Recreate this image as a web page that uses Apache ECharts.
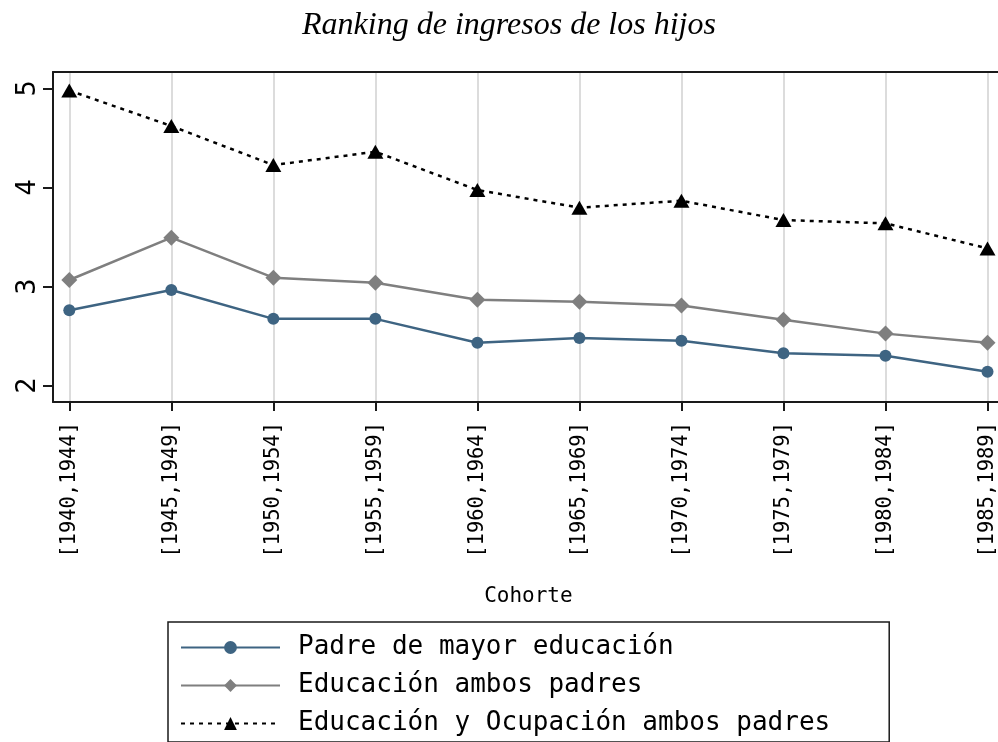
<!DOCTYPE html>
<html>
<head>
<meta charset="utf-8">
<title>Ranking de ingresos de los hijos</title>
<script src="https://cdn.jsdelivr.net/npm/echarts@6/dist/echarts.min.js"></script>
<style>
	html,body{margin:0;padding:0;background:#fff;}
	#chart{width:998px;height:742px;}
</style>
</head>
<body>
<div id="chart"></div>
<script>
//数据
var cohortes = ['[1940,1944]','[1945,1949]','[1950,1954]','[1955,1959]','[1960,1964]','[1965,1969]','[1970,1974]','[1975,1979]','[1980,1984]','[1985,1989]'];
var padreEducacion = [2.76, 2.965, 2.674, 2.674, 2.433, 2.48, 2.453, 2.326, 2.302, 2.14];
var educacionAmbos = [3.066, 3.493, 3.09, 3.039, 2.866, 2.846, 2.808, 2.666, 2.525, 2.433];
var educacionOcupacion = [4.978, 4.62, 4.226, 4.36, 3.974, 3.796, 3.866, 3.671, 3.638, 3.385];
var yTicks = [2, 3, 4, 5];
var nombres = ['Padre de mayor educación','Educación ambos padres','Educación y Ocupación ambos padres'];

;(function(){
	var mono = 'DejaVu Sans Mono';
	var yMin = 1.835, yMax = 5.165;

	var myEchart = echarts.init(document.getElementById('chart'));

	var option = {
		animation : false,
		backgroundColor : '#fff',
		title : {
			text : 'Ranking de ingresos de los hijos',
			left : 504,
			textAlign : 'center',
			top : 5,
			textStyle : {
				fontFamily : 'Liberation Serif',
				fontStyle : 'italic',
				fontWeight : 'normal',
				fontSize : 32,
				color : '#000'
			}
		},
		//0: marco, 1: datos
		grid : [
			{left : 53, top : 72, width : 1000, height : 330},
			{left : 69.3, top : 72, width : 919.7, height : 330}
		],
		xAxis : [
			{
				gridIndex : 0, type : 'value', min : 0, max : 1, position : 'bottom',
				axisLine : {lineStyle : {color : '#1a1a1a', width : 2}},
				axisTick : {show : false}, axisLabel : {show : false}, splitLine : {show : false}
			},
			{
				gridIndex : 0, type : 'value', min : 0, max : 1, position : 'top',
				axisLine : {lineStyle : {color : '#1a1a1a', width : 2}},
				axisTick : {show : false}, axisLabel : {show : false}, splitLine : {show : false}
			},
			{
				gridIndex : 1, type : 'category', boundaryGap : false, data : cohortes,
				axisLine : {show : false},
				axisTick : {show : true, length : 9, lineStyle : {color : '#1a1a1a', width : 2}},
				axisLabel : {rotate : 90, margin : 20, fontFamily : mono, fontSize : 20.5, color : '#000'},
				splitLine : {show : true, lineStyle : {color : '#dcdcdc', width : 2}},
				name : 'Cohorte',
				nameLocation : 'middle',
				nameGap : 184,
				nameTextStyle : {fontFamily : mono, fontSize : 21, color : '#000'}
			}
		],
		yAxis : [
			{
				gridIndex : 0, type : 'value', min : yMin, max : yMax,
				axisLine : {show : true, lineStyle : {color : '#1a1a1a', width : 2}},
				axisTick : {show : true, length : 10, customValues : yTicks, lineStyle : {color : '#1a1a1a', width : 2}},
				axisLabel : {customValues : yTicks, rotate : 90, margin : 12, fontFamily : mono, fontSize : 27, color : '#000'},
				splitLine : {show : false}
			},
			{
				gridIndex : 1, type : 'value', min : yMin, max : yMax, show : false,
				splitLine : {show : false}
			}
		],
		legend : {
			orient : 'vertical',
			left : 168,
			top : 622,
			data : nombres,
			backgroundColor : '#fff',
			borderColor : '#1a1a1a',
			borderWidth : 1.5,
			borderRadius : 0,
			padding : [10, 59, 3, 12],
			itemWidth : 99,
			itemHeight : 16,
			itemGap : 7,
			textStyle : {
				fontFamily : mono,
				fontSize : 26,
				lineHeight : 31,
				color : '#000',
				padding : [0, 0, 0, 13]
			}
		},
		series : [
			{
				name : nombres[0],
				type : 'line',
				xAxisIndex : 2, yAxisIndex : 1,
				data : padreEducacion,
				symbol : 'circle',
				symbolSize : 12,
				itemStyle : {color : '#3e6482'},
				lineStyle : {color : '#3e6482', width : 2.5}
			},
			{
				name : nombres[1],
				type : 'line',
				xAxisIndex : 2, yAxisIndex : 1,
				data : educacionAmbos,
				symbol : 'diamond',
				symbolSize : 16,
				itemStyle : {color : '#7f7f7f'},
				lineStyle : {color : '#7f7f7f', width : 2.5}
			},
			{
				name : nombres[2],
				type : 'line',
				xAxisIndex : 2, yAxisIndex : 1,
				data : educacionOcupacion,
				symbol : 'triangle',
				symbolSize : [16, 14],
				itemStyle : {color : '#000'},
				lineStyle : {color : '#000', width : 2.5, type : [4, 5]}
			}
		]
	};

	myEchart.setOption(option);
})();
</script>
</body>
</html>
